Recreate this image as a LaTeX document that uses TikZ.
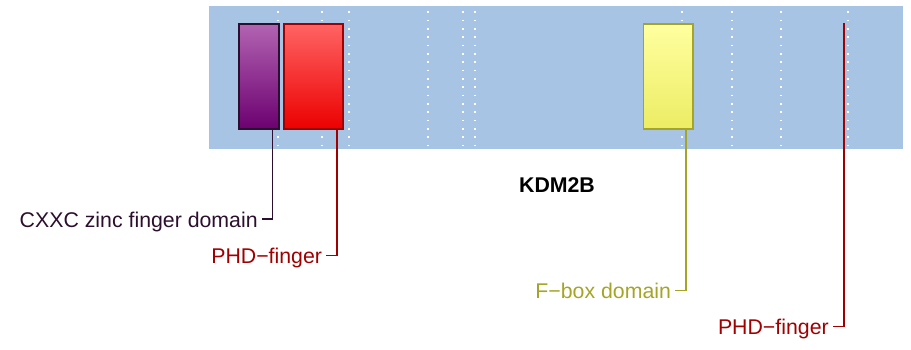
\documentclass[tikz,border=0pt]{standalone}
\usepackage{fontspec}
\setmainfont{Liberation Sans}
\definecolor{bandc}{RGB}{167,196,228}
\definecolor{edgec}{RGB}{228,176,168}
\definecolor{cxxcc}{RGB}{44,14,46}
\definecolor{cxxctop}{RGB}{178,100,178}
\definecolor{cxxcbot}{RGB}{108,0,112}
\definecolor{phdc}{RGB}{160,0,0}
\definecolor{phdtop}{RGB}{255,100,100}
\definecolor{phdbot}{RGB}{236,0,0}
\definecolor{fboxc}{RGB}{164,164,40}
\definecolor{fboxtop}{RGB}{255,255,160}
\definecolor{fboxbot}{RGB}{236,236,100}
\begin{document}
\begin{tikzpicture}[x=1pt,y=-1pt,
  dom/.style={draw, line width=1.6pt, inner sep=0pt, minimum height=105.5pt},
  lab/.style={font=\fontsize{21.3pt}{25pt}\selectfont, inner xsep=3.8pt, inner ysep=0pt,
              text height=16pt, text depth=0pt, anchor=base east},
  conn/.style={line width=1.6pt},
  dots/.style={white, line width=1.6pt, dash pattern=on 1.5pt off 6.83pt}]
\useasboundingbox (0,0) rectangle (911,350);
% band
\fill[bandc] (209,6) rectangle (903,149);
\draw[edgec, line width=0.8pt] (209.4,6) -- (209.4,149);
% dotted guides
\foreach \x in {278,322,349,428,463,475,682,732,781,848}
  \draw[dots] (\x,11.5) -- (\x,147);
% domains
\node[dom, draw=cxxcc, top color=cxxctop, bottom color=cxxcbot, minimum width=40.5pt] (p1) at (259,76.5) {};
\node[dom, draw=phdc, top color=phdtop, bottom color=phdbot, minimum width=59.5pt] (p2) at (313.5,76.5) {};
\node[dom, draw=fboxc, top color=fboxtop, middle color=fboxtop, bottom color=fboxbot, minimum width=49.5pt] (p3) at (668.2,76.5) {};
\node[dom, draw=phdc, fill=phdc, line width=0.8pt, minimum width=1pt] (p4) at (843.8,76.5) {};
% title
\node[font=\fontsize{21.3pt}{25pt}\selectfont\bfseries, inner sep=0pt, anchor=base] (title) at (557,192.3) {KDM2B};
% labels
\node[lab, text=cxxcc] (l1) at (261.7,227.3) {CXXC zinc finger domain};
\node[lab, text=phdc] (l2) at (326,263.3) {PHD−finger};
\node[lab, text=fboxc] (l3) at (675,298.3) {F−box domain};
\node[lab, text=phdc] (l4) at (832.7,334.3) {PHD−finger};
% connectors
\coordinate (x1) at (272.3,0);
\coordinate (x2) at (336.7,0);
\coordinate (x3) at (686,0);
\draw[conn, cxxcc] (p1.south -| x1) |- (l1.east);
\draw[conn, phdc] (p2.south -| x2) |- (l2.east);
\draw[conn, fboxc] (p3.south -| x3) |- (l3.east);
\draw[conn, phdc] (p4.south) |- (l4.east);
\end{tikzpicture}
\end{document}
